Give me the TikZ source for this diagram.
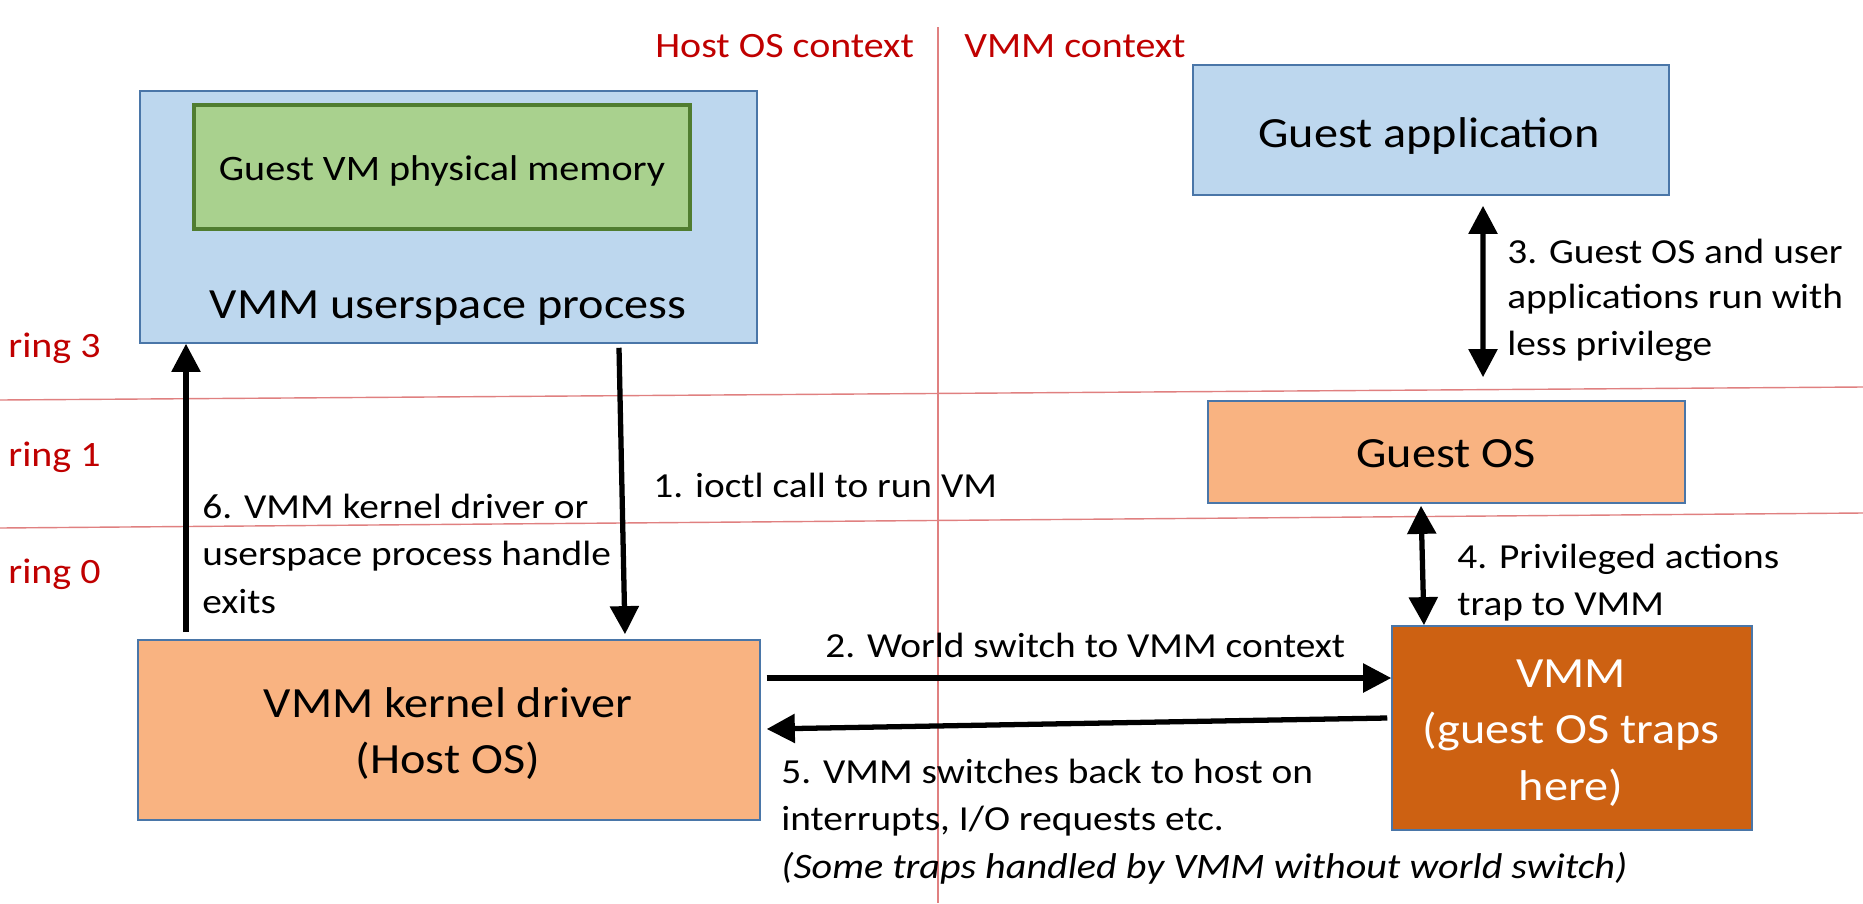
\documentclass[tikz,border=0pt]{standalone}
\usepackage{fontspec}
\setmainfont{Carlito}[FakeStretch=1.12]
\usetikzlibrary{arrows.meta,calc}
\definecolor{ublue}{HTML}{BDD7EE}
\definecolor{bblue}{HTML}{4A76A8}
\definecolor{mgreen}{HTML}{A9D18E}
\definecolor{dgreen}{HTML}{507D30}
\definecolor{lorange}{HTML}{F9B381}
\definecolor{dorange}{HTML}{CD6112}
\definecolor{ctxred}{HTML}{C00000}
\definecolor{linered}{HTML}{E08080}
\newcommand\bigfnt{\fontsize{24.5}{32}\selectfont}
\newcommand\labfnt{\fontsize{20}{27}\selectfont}
\newcommand\ctxfnt{\fontsize{20.3}{27}\selectfont}
\newcommand\itfnt{\fontsize{20.4}{27}\selectfont\itshape}
\newcommand\memfnt{\fontsize{20.4}{26}\selectfont}
\tikzset{
  box/.style={draw=bblue, line width=0.9pt, inner sep=0pt, align=center, font=\bigfnt},
  lab/.style={anchor=base west, inner sep=0pt, font=\labfnt},
  ctx/.style={lab, text=ctxred, font=\ctxfnt},
  boxtext/.style={anchor=base, inner sep=0pt, font=\bigfnt},
  ringline/.style={draw=linered, line width=0.8pt},
  arr/.style={line width=3pt, -{Triangle[length=16pt,width=16pt]}},
  darr/.style={line width=3pt, {Triangle[length=16pt,width=16pt]}-{Triangle[length=16pt,width=16pt]}}
}
\begin{document}
\begin{tikzpicture}[x=0.02cm, y=-0.02cm]
\useasboundingbox (0,0) rectangle (1863,903);
\fill[white] (0,0) rectangle (1863,903);
% context and ring lines
\coordinate (vt) at (938,27);
\coordinate (vb) at (938,903);
\coordinate (h1l) at (0,400);
\coordinate (h1r) at (1863,387);
\coordinate (h2l) at (0,528);
\coordinate (h2r) at (1863,513);
\draw[ringline] (vt) -- (vb);
\draw[ringline] (h1l) -- (h1r);
\draw[ringline] (h2l) -- (h2r);
% context labels
\node[ctx] (hostctx) at (655,57) {Host OS context};
\node[ctx] (vmmctx) at (964,57) {VMM context};
\node[ctx] (r3) at (8,357) {ring 3};
\node[ctx] (r1) at (8,466) {ring 1};
\node[ctx] (r0) at (8,583) {ring 0};
% boxes
\node[box, fill=ublue, minimum width=12.34cm, minimum height=5.04cm] (U) at (448.5,217) {};
\node[box, draw=dgreen, line width=2pt, fill=mgreen, minimum width=9.92cm, minimum height=2.48cm] (M) at (442,167) {};
\node[anchor=base, inner sep=0pt, font=\memfnt] (Mt) at (442,180) {Guest VM physical memory};
\node[boxtext] (Ut) at (448,318) {VMM userspace process};
\node[box, fill=ublue, minimum width=9.52cm, minimum height=2.6cm] (A) at (1431,130) {};
\node[boxtext] (At) at (1429,147) {Guest application};
\node[box, fill=lorange, minimum width=9.54cm, minimum height=2.04cm] (G) at (1446.5,452) {};
\node[boxtext] (Gt) at (1446,467) {Guest OS};
\node[box, fill=dorange, minimum width=7.2cm, minimum height=4.08cm] (V) at (1572,728) {};
\node[boxtext, text=white] (Vt1) at (1571,687) {VMM};
\node[boxtext, text=white] (Vt2) at (1571,743) {(guest OS traps};
\node[boxtext, text=white] (Vt3) at (1571,800) {here)};
\node[box, fill=lorange, minimum width=12.44cm, minimum height=3.6cm] (K) at (449,730) {};
\node[boxtext] (Kt1) at (448,717) {VMM kernel driver};
\node[boxtext] (Kt2) at (448,773) {(Host OS)};
% arrows
\draw[arr] ($(U.south)+(170.5,4)$) -- ($(K.north)+(176,-5)$);
\draw[arr] ($(K.north)+(-263,-7)$) -- ($(U.south)+(-262.5,0)$);
\draw[arr] ($(K.east)+(6,-52)$) -- ($(V.west)+(0,-50)$);
\draw[arr] ($(V.west)+(-4,-10)$) -- ($(K.east)+(6,-1)$);
\draw[darr] ($(A.south)+(52,10)$) -- ($(G.north)+(36.5,-23)$);
\draw[darr] ($(G.south)+(-25.5,2)$) -- ($(V.north)+(-148,0)$);
% labels
\node[lab] (l1) at (653,497) {1. ioctl call to run VM};
\node[lab] (l2) at (825,657) {2. World switch to VMM context};
\node[lab] (l3a) at (1507,263) {3. Guest OS and user};
\node[lab] (l3b) at (1507,308) {applications run with};
\node[lab] (l3c) at (1507,355) {less privilege};
\node[lab] (l4a) at (1457,568) {4. Privileged actions};
\node[lab] (l4b) at (1457,615) {trap to VMM};
\node[lab] (l5a) at (781,783) {5. VMM switches back to host on};
\node[lab] (l5b) at (781,830) {interrupts, I/O requests etc.};
\node[lab, font=\itfnt] (l5c) at (781,878) {(Some traps handled by VMM without world switch)};
\node[lab] (l6a) at (202,518) {6. VMM kernel driver or};
\node[lab] (l6b) at (202,565) {userspace process handle};
\node[lab] (l6c) at (202,613) {exits};
\end{tikzpicture}
\end{document}
